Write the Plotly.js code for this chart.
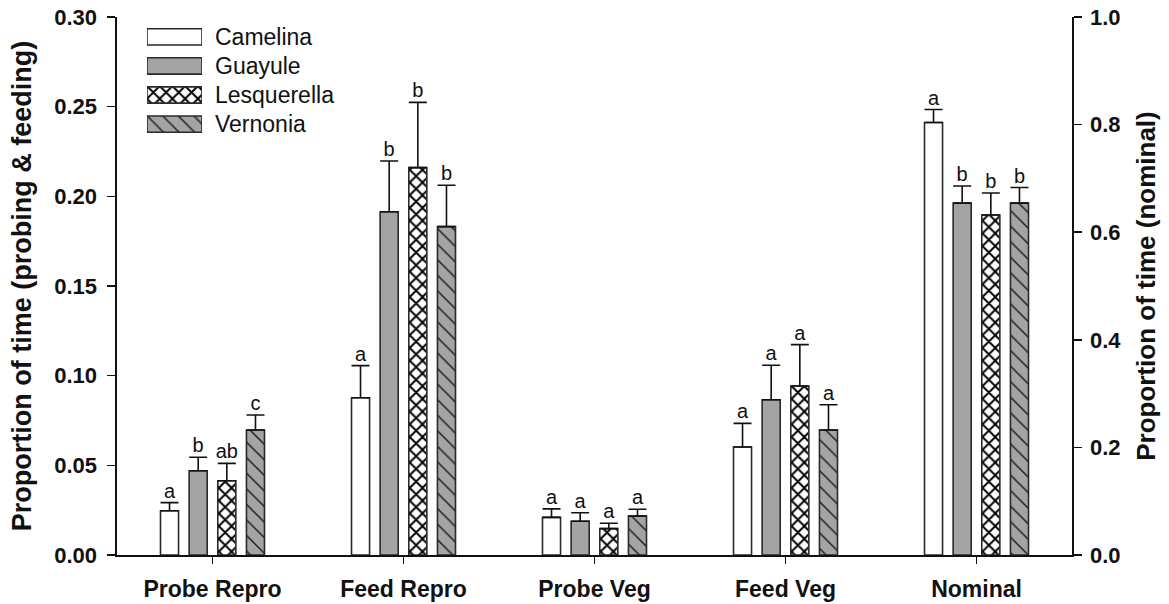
<!DOCTYPE html>
<html>
<head>
<meta charset="utf-8">
<script src="https://cdn.plot.ly/plotly-3.0.1.min.js"></script>
<style>html,body{margin:0;padding:0;background:#fff;}#chart{width:1169px;height:604px;}</style>
</head>
<body>
<div id="chart"></div>
<script>
// ---- data ----
var categories = ['Probe Repro', 'Feed Repro', 'Probe Veg', 'Feed Veg'];
var nominalCategory = ['Nominal'];
var seriesNames = ['Camelina', 'Guayule', 'Lesquerella', 'Vernonia'];

var camelina     = [0.0247, 0.0877, 0.0210, 0.0602];
var camelinaErr  = [0.0045, 0.0179, 0.0047, 0.0132];
var camelinaSig  = ['a', 'a', 'a', 'a'];

var guayule      = [0.0470, 0.1914, 0.0188, 0.0866];
var guayuleErr   = [0.0075, 0.0283, 0.0048, 0.0192];
var guayuleSig   = ['b', 'b', 'a', 'a'];

var lesquerella    = [0.0414, 0.2160, 0.0147, 0.0942];
var lesquerellaErr = [0.0097, 0.0364, 0.0030, 0.0231];
var lesquerellaSig = ['ab', 'b', 'a', 'a'];

var vernonia     = [0.0697, 0.1831, 0.0217, 0.0697];
var vernoniaErr  = [0.0084, 0.0231, 0.0038, 0.0141];
var vernoniaSig  = ['c', 'b', 'a', 'a'];

// Nominal (right axis), order: Camelina, Guayule, Lesquerella, Vernonia
var nominal     = [0.804, 0.654, 0.632, 0.654];
var nominalErr  = [0.024, 0.032, 0.041, 0.029];
var nominalSig  = ['a', 'b', 'b', 'b'];

var leftTickVals  = [0, 0.05, 0.10, 0.15, 0.20, 0.25, 0.30];
var rightTickVals = [0, 0.2, 0.4, 0.6, 0.8, 1.0];

// ---- styles ----
var FONT = 'Liberation Sans, Arial, Helvetica, sans-serif';
var edge = '#2a2a2a';
var gray = '#a4a4a4';
var styles = [
  {color: '#ffffff', pattern: null},
  {color: gray, pattern: null},
  {color: '#ffffff', pattern: {shape: 'x', fgcolor: '#000000', bgcolor: '#ffffff', size: 9, solidity: 0.38, fillmode: 'replace'}},
  {color: gray, pattern: {shape: '\\', fgcolor: '#1a1a1a', bgcolor: gray, size: 11, solidity: 0.13, fillmode: 'replace'}}
];

var leftVals = [camelina, guayule, lesquerella, vernonia];
var leftErrs = [camelinaErr, guayuleErr, lesquerellaErr, vernoniaErr];
var leftSigs = [camelinaSig, guayuleSig, lesquerellaSig, vernoniaSig];

var traces = [];
function zeros(n){ var a=[]; for (var i=0;i<n;i++) a.push(0); return a; }
function markerFor(s){
  var mk = {color: styles[s].color, line: {color: edge, width: 1.6}};
  if (styles[s].pattern) mk.pattern = styles[s].pattern;
  return mk;
}

for (var s = 0; s < 4; s++) {
  traces.push({
    type: 'bar', name: seriesNames[s], x: categories, y: leftVals[s],
    xaxis: 'x', yaxis: 'y', offsetgroup: 'g' + s, showlegend: false, hoverinfo: 'skip',
    marker: markerFor(s),
    error_y: {type: 'data', symmetric: false, array: leftErrs[s], arrayminus: zeros(categories.length),
              color: '#111', thickness: 1.6, width: 9}
  });
  traces.push({
    type: 'bar', name: seriesNames[s], x: nominalCategory, y: [nominal[s]],
    xaxis: 'x', yaxis: 'y2', offsetgroup: 'g' + s, showlegend: false, hoverinfo: 'skip',
    marker: markerFor(s),
    error_y: {type: 'data', symmetric: false, array: [nominalErr[s]], arrayminus: [0],
              color: '#111', thickness: 1.6, width: 9}
  });
}
// significance letters (grouped like the bars)
for (var s2 = 0; s2 < 4; s2++) {
  var tops = leftVals[s2].map(function(v, i){ return v + leftErrs[s2][i]; });
  traces.push({
    type: 'scatter', mode: 'text', x: categories, y: tops, text: leftSigs[s2],
    textposition: 'top center', textfont: {family: FONT, size: 20, color: '#111'},
    xaxis: 'x', yaxis: 'y', offsetgroup: 'g' + s2, showlegend: false, hoverinfo: 'skip', cliponaxis: false
  });
  traces.push({
    type: 'scatter', mode: 'text', x: nominalCategory, y: [nominal[s2] + nominalErr[s2]], text: [nominalSig[s2]],
    textposition: 'top center', textfont: {family: FONT, size: 20, color: '#111'},
    xaxis: 'x', yaxis: 'y2', offsetgroup: 'g' + s2, showlegend: false, hoverinfo: 'skip', cliponaxis: false
  });
}
// legend swatches drawn as a small horizontal bar chart (one trace per series, same offset group)
for (var s3 = 0; s3 < 4; s3++) {
  traces.push({
    type: 'bar', orientation: 'h', x: [1], y: [seriesNames[s3]],
    xaxis: 'x3', yaxis: 'y3', width: 0.56, offsetgroup: 'legend', showlegend: false, hoverinfo: 'skip',
    marker: markerFor(s3)
  });
}

var legendText = seriesNames.map(function(n){
  return {text: n, x: 0.1, xref: 'paper', y: n, yref: 'y3', xanchor: 'left', yanchor: 'middle',
          showarrow: false, font: {family: FONT, size: 23, color: '#111'}};
});

var axisCommon = {
  showline: true, linecolor: '#111', linewidth: 1.6, ticks: 'outside', ticklen: 8, tickwidth: 1.6,
  tickcolor: '#111', showgrid: false, zeroline: false, fixedrange: true
};

var layout = {
  width: 1169, height: 604,
  margin: {l: 117, r: 97, t: 17, b: 49, pad: 0},
  paper_bgcolor: '#fff', plot_bgcolor: 'rgba(0,0,0,0)',
  barmode: 'group', bargap: 0.40, bargroupgap: 0.37,
  scattermode: 'group', scattergap: 0.40,
  showlegend: false,
  font: {family: FONT, color: '#111'},
  xaxis: Object.assign({}, axisCommon, {
    type: 'category', categoryorder: 'array', categoryarray: categories.concat(nominalCategory),
    range: [-0.5, 4.5], ticklen: 7, ticklabelstandoff: 6,
    tickfont: {family: FONT, size: 23, color: '#111', weight: 'bold'}
  }),
  yaxis: Object.assign({}, axisCommon, {
    range: [0, 0.30], tickvals: leftTickVals, tickformat: '.2f', ticklabelstandoff: 6,
    tickfont: {family: FONT, size: 22, color: '#111', weight: 'bold'},
    title: {text: 'Proportion of time (probing & feeding)', standoff: 15,
            font: {family: FONT, size: 27, color: '#111', weight: 'bold'}}
  }),
  yaxis2: Object.assign({}, axisCommon, {
    overlaying: 'y', side: 'right', anchor: 'x',
    range: [0, 1.0], tickvals: rightTickVals, tickformat: '.1f', ticklabelstandoff: 4,
    tickfont: {family: FONT, size: 22, color: '#111', weight: 'bold'},
    title: {text: 'Proportion of time (nominal)', standoff: 16,
            font: {family: FONT, size: 26, color: '#111', weight: 'bold'}}
  }),
  xaxis3: {domain: [0.0314, 0.089], range: [0, 1], visible: false, fixedrange: true, anchor: 'y3'},
  yaxis3: {domain: [0.774, 0.99], range: [3.5, -0.5], type: 'category', visible: false, fixedrange: true, anchor: 'x3'},
  annotations: legendText
};

Plotly.newPlot('chart', traces, layout, {staticPlot: true, displayModeBar: false});
</script>
</body>
</html>
